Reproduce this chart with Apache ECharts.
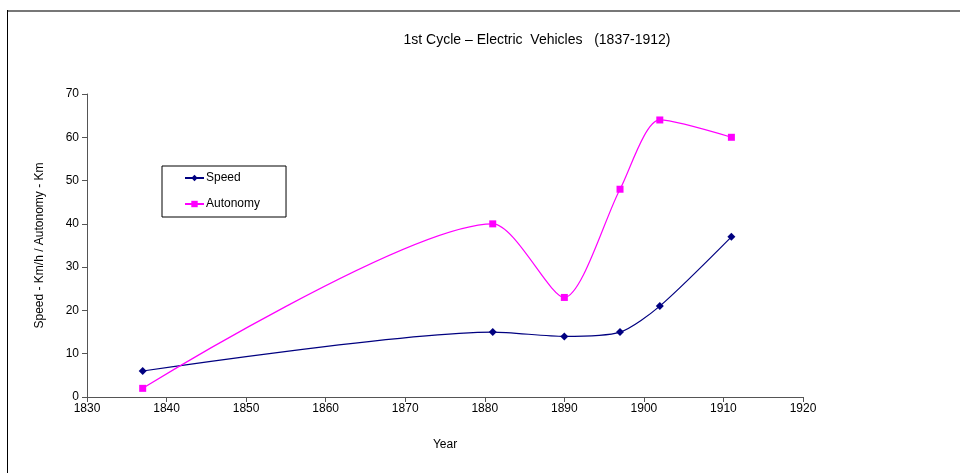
<!DOCTYPE html>
<html>
<head>
<meta charset="utf-8">
<script src="https://cdn.jsdelivr.net/npm/echarts@6/dist/echarts.min.js"></script>
<style>
  html, body { margin: 0; padding: 0; background: #fff; }
  #chart { width: 960px; height: 473px; }
</style>
</head>
<body>
<div id="chart"></div>
<script>
// data
const years = [1837, 1881, 1890, 1897, 1902, 1911];
const speed = [6, 15, 14, 15, 21, 37];
const autonomy = [2, 40, 23, 48, 64, 60];

const pairs = (vals) => years.map((y, i) => [y, vals[i]]);
const font = 'Liberation Sans, Arial, sans-serif';

const myChart = echarts.init(document.getElementById('chart'));
myChart.setOption({
  animation: false,
  textStyle: { fontFamily: font },
  title: {
    text: '1st Cycle \u2013 Electric  Vehicles   (1837-1912)',
    left: 532,
    top: 28,
    textAlign: 'center',
    textStyle: { fontFamily: font, fontSize: 14, fontWeight: 'normal', color: '#000' }
  },
  legend: {
    orient: 'vertical',
    left: 162,
    top: 166,
    padding: [6, 26, 7, 22],
    itemWidth: 19,
    itemHeight: 8,
    itemGap: 14,
    borderColor: '#000',
    borderWidth: 1,
    borderRadius: 0,
    textStyle: { fontFamily: font, fontSize: 12, color: '#000', padding: [0, 0, 0, -3] },
    data: ['Speed', 'Autonomy']
  },
  grid: { left: 87, right: 157, top: 94, bottom: 76 },
  xAxis: {
    type: 'value',
    min: 1830,
    max: 1920,
    interval: 10,
    name: 'Year',
    nameLocation: 'middle',
    nameGap: 42,
    nameTextStyle: { fontFamily: font, fontSize: 12, color: '#000' },
    axisLine: { lineStyle: { color: '#555', width: 1 } },
    axisTick: { length: 5, lineStyle: { color: '#555' } },
    axisLabel: { fontFamily: font, fontSize: 12, color: '#000', margin: 6, formatter: (v) => String(v) },
    splitLine: { show: false }
  },
  yAxis: {
    type: 'value',
    min: 0,
    max: 70,
    interval: 10,
    name: 'Speed - Km/h / Autonomy - Km',
    nameLocation: 'middle',
    nameGap: 41,
    nameTextStyle: { fontFamily: font, fontSize: 12, color: '#000' },
    axisLine: { show: true, lineStyle: { color: '#555', width: 1 } },
    axisTick: { show: true, length: 5, lineStyle: { color: '#555' } },
    axisLabel: { fontFamily: font, fontSize: 12, color: '#000', margin: 8 },
    splitLine: { show: false }
  },
  series: [
    {
      name: 'Speed',
      type: 'line',
      data: pairs(speed),
      smooth: 0.25,
      symbol: 'diamond',
      symbolSize: 8,
      color: '#000080',
      lineStyle: { width: 1.2, color: '#000080' },
      itemStyle: { color: '#000080' }
    },
    {
      name: 'Autonomy',
      type: 'line',
      data: pairs(autonomy),
      smooth: 0.25,
      symbol: 'rect',
      symbolSize: 7,
      color: '#ff00ff',
      lineStyle: { width: 1.2, color: '#ff00ff' },
      itemStyle: { color: '#ff00ff' }
    }
  ],
  graphic: [
    { type: 'line', shape: { x1: 7, y1: 11, x2: 960, y2: 11 }, style: { stroke: '#777', lineWidth: 2 } },
    { type: 'line', shape: { x1: 7.5, y1: 10, x2: 7.5, y2: 473 }, style: { stroke: '#000', lineWidth: 1 } }
  ]
});
</script>
</body>
</html>
